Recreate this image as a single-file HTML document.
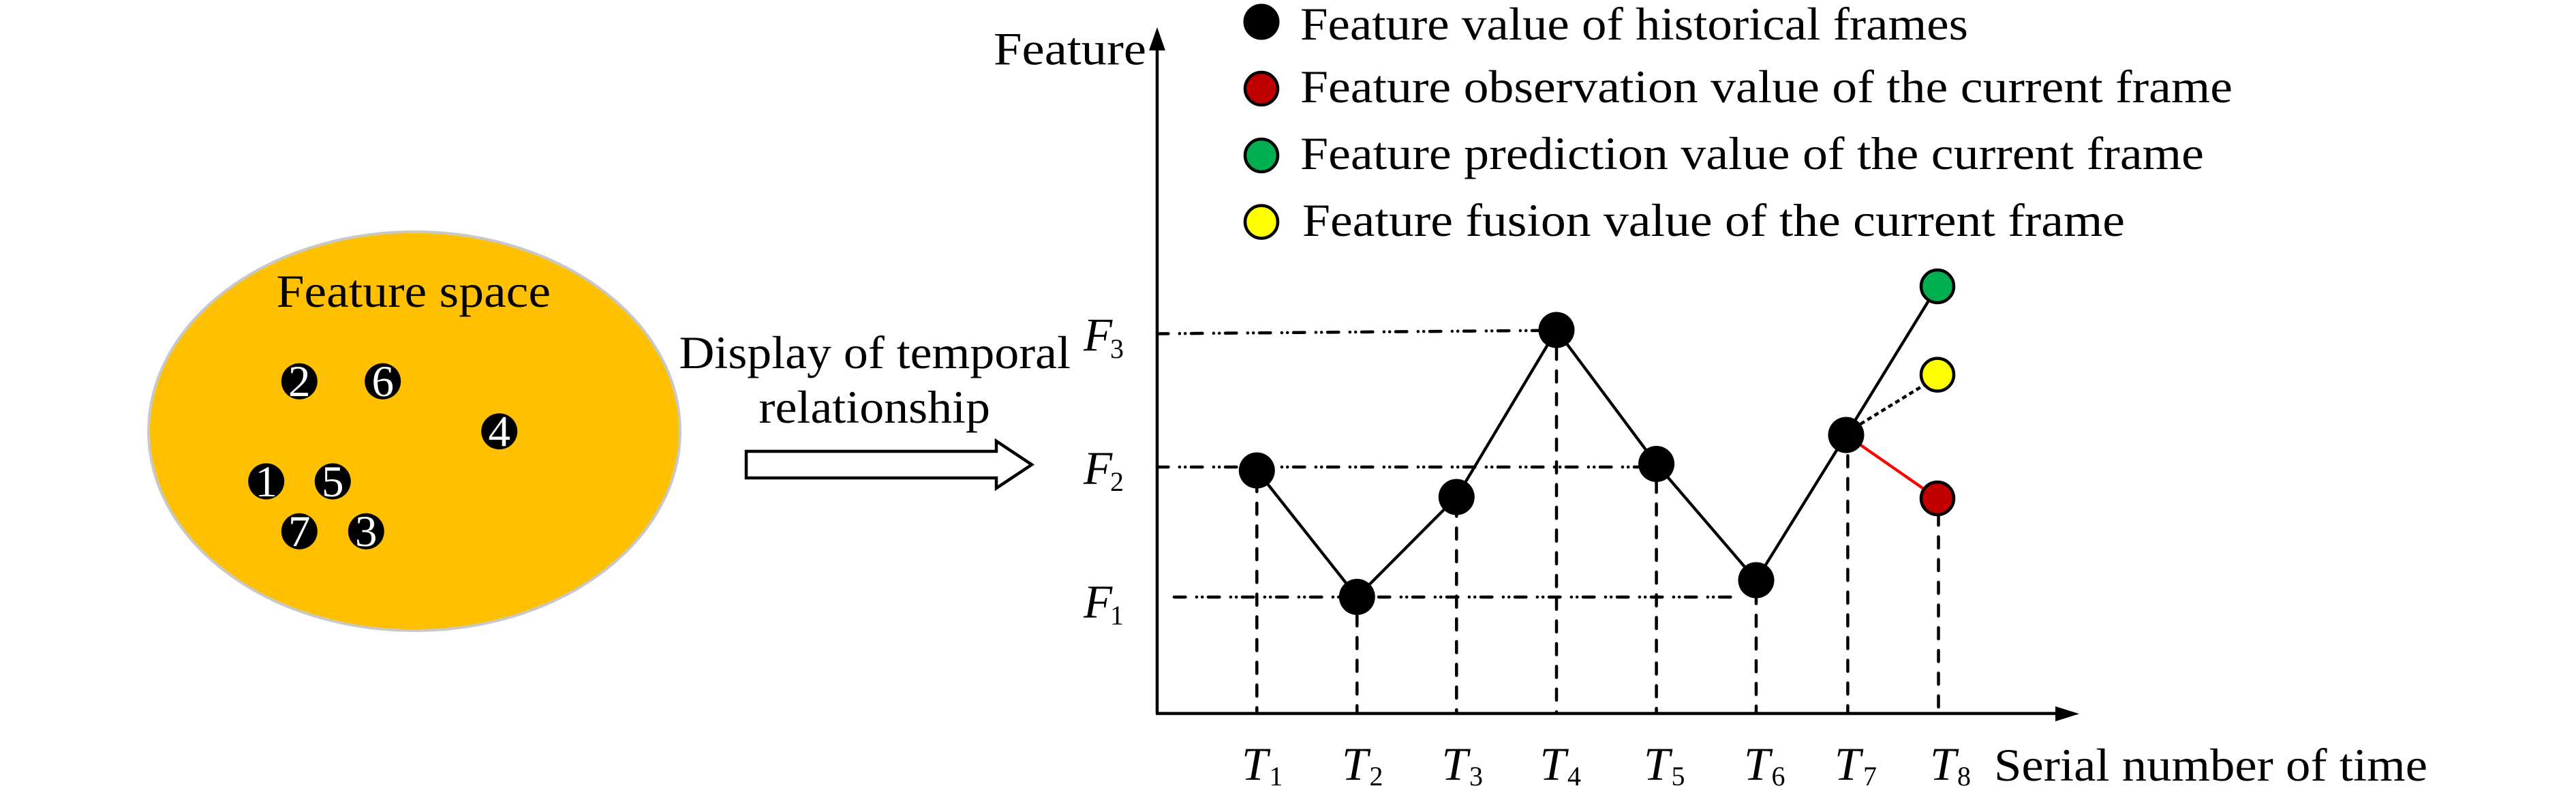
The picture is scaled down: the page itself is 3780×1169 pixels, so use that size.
<!DOCTYPE html>
<html>
<head>
<meta charset="utf-8">
<style>
html,body{margin:0;padding:0;background:#fff;width:3780px;height:1169px;overflow:hidden}
svg{display:block}
text{font-family:"Liberation Serif",serif;fill:#000}
.m{font-size:68px}
.n{font-size:65px;fill:#fff;text-anchor:middle}
.i{font-size:69px;font-style:italic}
.s{font-size:40px;text-anchor:middle}
.v{stroke:#000;stroke-width:4.5;stroke-linecap:round;stroke-dasharray:16.4 16.93;fill:none}
.h{stroke:#000;stroke-width:4.5;stroke-linecap:round;stroke-dasharray:16.4 16.45 .1 8.2 .1 8.75;fill:none}
</style>
</head>
<body>
<svg width="3780" height="1169" viewBox="0 0 3780 1169" xmlns="http://www.w3.org/2000/svg">
<rect width="3780" height="1169" fill="#fff"/>

<!-- Feature space -->
<ellipse cx="608" cy="632.5" rx="390" ry="292.5" fill="#FFC000" stroke="#C8C8C8" stroke-width="4"/>
<text class="m" x="405.5" y="450" textLength="402.5" lengthAdjust="spacingAndGlyphs">Feature space</text>
<g>
<circle cx="439.3" cy="559.3" r="26.5" fill="#000"/><text class="n" x="439.3" y="581">2</text>
<circle cx="561.7" cy="559.3" r="26.5" fill="#000"/><text class="n" x="561.7" y="581">6</text>
<circle cx="732.7" cy="632.7" r="26.5" fill="#000"/><text class="n" x="732.7" y="654.5">4</text>
<circle cx="390.7" cy="706" r="26.5" fill="#000"/><text class="n" x="390.7" y="728">1</text>
<circle cx="488.3" cy="706" r="26.5" fill="#000"/><text class="n" x="488.3" y="728">5</text>
<circle cx="439.3" cy="779.3" r="26.5" fill="#000"/><text class="n" x="439.3" y="801">7</text>
<circle cx="537.3" cy="779.3" r="26.5" fill="#000"/><text class="n" x="537.3" y="801">3</text>
</g>

<!-- Middle label and arrow -->
<text class="m" x="996.5" y="540" textLength="574.5" lengthAdjust="spacingAndGlyphs">Display of temporal</text>
<text class="m" x="1113.5" y="620" textLength="339.5" lengthAdjust="spacingAndGlyphs">relationship</text>
<path d="M1095,662 H1462 V647 L1514,681.5 L1462,716 V701 H1095 Z" fill="#fff" stroke="#000" stroke-width="4.5"/>

<!-- Axes -->
<line x1="1698" y1="70" x2="1698" y2="1046" stroke="#000" stroke-width="4.5"/>
<polygon points="1698,40 1686,74 1710,74" fill="#000"/>
<line x1="1696" y1="1046.5" x2="3020" y2="1046.5" stroke="#000" stroke-width="4.5"/>
<polygon points="3051,1047 3016,1036 3016,1058" fill="#000"/>
<text class="m" x="1458" y="94.5" textLength="224" lengthAdjust="spacingAndGlyphs">Feature</text>

<!-- Guide lines -->
<line class="h" x1="1698" y1="489.5" x2="2262" y2="484.7"/>
<line class="h" x1="1698" y1="685" x2="2404" y2="685"/>
<line class="h" x1="1723" y1="875.7" x2="2540" y2="875.7"/>

<line class="v" x1="1844.3" y1="704.7" x2="1844.3" y2="1046"/>
<line class="v" x1="1991.3" y1="901.7" x2="1991.3" y2="1046"/>
<line class="v" x1="2137.3" y1="741" x2="2137.3" y2="1046"/>
<line class="v" x1="2284" y1="510.7" x2="2284" y2="1046"/>
<line class="v" x1="2430.6" y1="705.7" x2="2430.6" y2="1046"/>
<line class="v" x1="2577" y1="869" x2="2577" y2="1046"/>
<line class="v" x1="2711.4" y1="668.4" x2="2711.4" y2="1046"/>
<line class="v" x1="2844.5" y1="754" x2="2844.5" y2="1037"/>

<!-- Series -->
<polyline points="1844.3,690 1991.3,875.5 2137.3,729 2284,484 2430.6,680.5 2577,851 2709,638" fill="none" stroke="#000" stroke-width="4.3"/>
<line x1="2709" y1="638" x2="2843" y2="420" stroke="#000" stroke-width="4.3"/>
<line x1="2709" y1="638" x2="2843" y2="731" stroke="#FF0000" stroke-width="4.3"/>
<line x1="2730" y1="622" x2="2823" y2="565" stroke="#000" stroke-width="4.5" stroke-dasharray="7 5"/>

<circle cx="1844.3" cy="690" r="26.5" fill="#000"/>
<circle cx="1991.3" cy="875.5" r="26.5" fill="#000"/>
<circle cx="2137.3" cy="729" r="26.5" fill="#000"/>
<circle cx="2284" cy="484" r="26.5" fill="#000"/>
<circle cx="2430.6" cy="680.5" r="26.5" fill="#000"/>
<circle cx="2577" cy="851" r="26.5" fill="#000"/>
<circle cx="2709" cy="638" r="26.5" fill="#000"/>
<circle cx="2843" cy="420" r="24" fill="#00B050" stroke="#000" stroke-width="4.5"/>
<circle cx="2843" cy="549.6" r="24" fill="#FFFF00" stroke="#000" stroke-width="4.5"/>
<circle cx="2843" cy="731" r="24" fill="#C00000" stroke="#000" stroke-width="4.5"/>

<!-- F labels -->
<text class="i" x="1590" y="514.5">F</text><text class="s" x="1639" y="525">3</text>
<text class="i" x="1590" y="710">F</text><text class="s" x="1639" y="720">2</text>
<text class="i" x="1590" y="906">F</text><text class="s" x="1639" y="916">1</text>

<!-- T labels -->
<text class="i" x="1822" y="1144">T</text><text class="s" x="1872.5" y="1152">1</text>
<text class="i" x="1969" y="1144">T</text><text class="s" x="2019.5" y="1152">2</text>
<text class="i" x="2115.5" y="1144">T</text><text class="s" x="2166" y="1152">3</text>
<text class="i" x="2259.5" y="1144">T</text><text class="s" x="2310" y="1152">4</text>
<text class="i" x="2412" y="1144">T</text><text class="s" x="2462.5" y="1152">5</text>
<text class="i" x="2559" y="1144">T</text><text class="s" x="2609.5" y="1152">6</text>
<text class="i" x="2692" y="1144">T</text><text class="s" x="2744" y="1152">7</text>
<text class="i" x="2832" y="1144">T</text><text class="s" x="2882" y="1152">8</text>
<text class="m" x="2926" y="1145" textLength="636" lengthAdjust="spacingAndGlyphs">Serial number of time</text>

<!-- Legend -->
<circle cx="1851" cy="32" r="26.5" fill="#000"/>
<circle cx="1851" cy="130" r="24" fill="#C00000" stroke="#000" stroke-width="4.5"/>
<circle cx="1851" cy="228" r="24" fill="#00B050" stroke="#000" stroke-width="4.5"/>
<circle cx="1851" cy="325.5" r="24" fill="#FFFF00" stroke="#000" stroke-width="4.5"/>
<text class="m" x="1908" y="58" textLength="980" lengthAdjust="spacingAndGlyphs">Feature value of historical frames</text>
<text class="m" x="1908" y="150" textLength="1368" lengthAdjust="spacingAndGlyphs">Feature observation value of the current frame</text>
<text class="m" x="1908" y="248" textLength="1326" lengthAdjust="spacingAndGlyphs">Feature prediction value of the current frame</text>
<text class="m" x="1911" y="346" textLength="1207" lengthAdjust="spacingAndGlyphs">Feature fusion value of the current frame</text>
</svg>
</body>
</html>
